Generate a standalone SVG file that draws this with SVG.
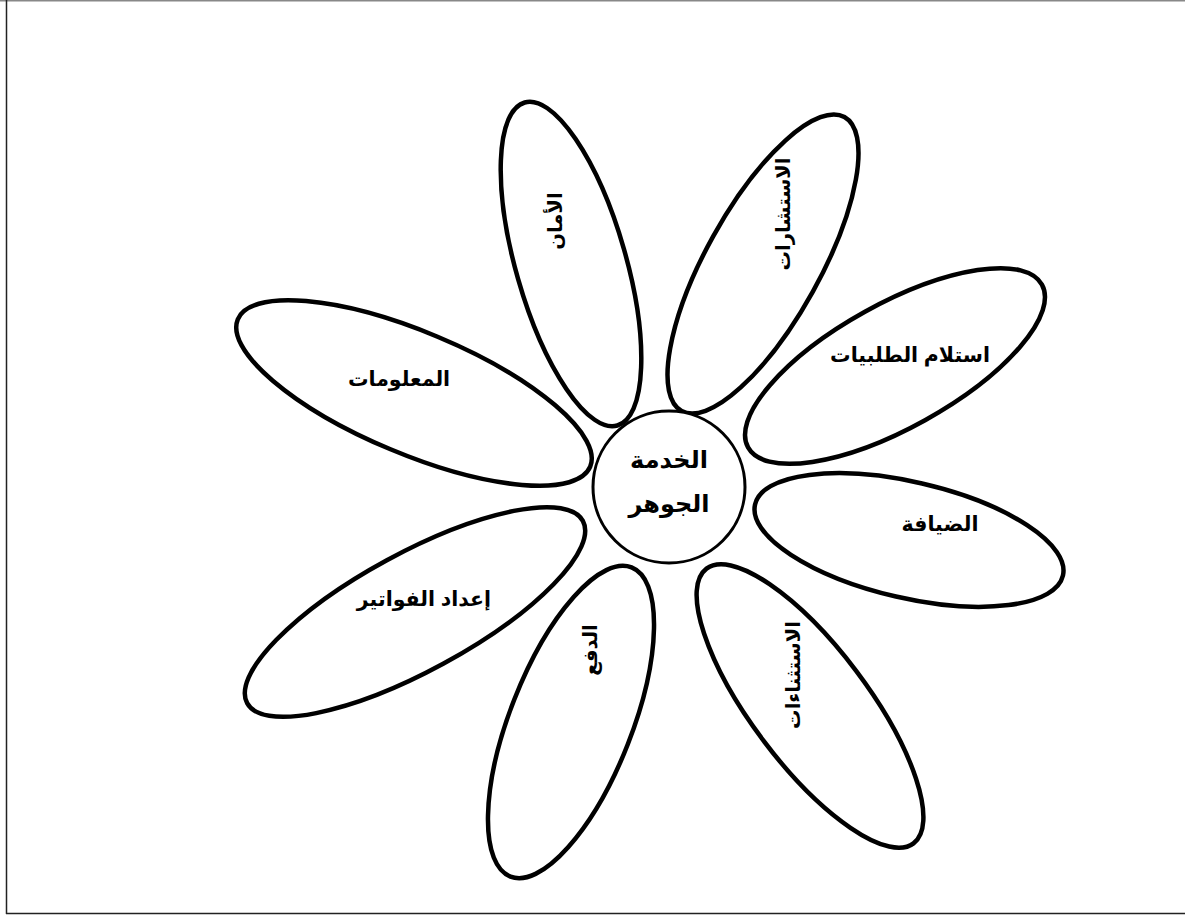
<svg xmlns="http://www.w3.org/2000/svg" width="1185" height="915" viewBox="0 0 1185 915">
<style>
.petal{fill:none;stroke:#000;stroke-width:4.5}
.core{fill:#fff;stroke:#000;stroke-width:3}
.lbl{font-family:"Liberation Sans","DejaVu Sans",sans-serif;font-weight:bold;font-size:20.5px;fill:#000;text-anchor:middle}
.vlbl{font-family:"Liberation Sans","DejaVu Sans",sans-serif;font-weight:bold;font-size:19.5px;fill:#000;text-anchor:middle}
.core-lbl{font-family:"Liberation Sans","DejaVu Sans",sans-serif;font-weight:bold;font-size:24px;fill:#000;text-anchor:middle}
</style>
<rect width="1185" height="915" fill="#fff"/>
<g id="frame">
<line x1="0" y1="0.75" x2="1185" y2="0.75" stroke="#888" stroke-width="1.5"/>
<line x1="6.5" y1="0" x2="6.5" y2="914" stroke="#222" stroke-width="1.5"/>
<line x1="6" y1="913.5" x2="1185" y2="913.5" stroke="#222" stroke-width="1.5"/>
</g>
<g id="connectors"></g>
<g id="petal-aman">
<ellipse class="petal" cx="0" cy="0" rx="168" ry="55" transform="translate(571,264) rotate(74)"/>
<text class="vlbl" transform="translate(555,221) rotate(-90)" y="7">الأمان</text>
</g>
<g id="petal-istisharat">
<ellipse class="petal" cx="0" cy="0" rx="168" ry="57" transform="translate(763,264) rotate(-61)"/>
<text class="vlbl" transform="translate(783,214) rotate(-90)" y="7">الاستشارات</text>
</g>
<g id="petal-istilam">
<ellipse class="petal" cx="0" cy="0" rx="168" ry="62" transform="translate(895,366) rotate(-29)"/>
<text class="lbl" x="910" y="362">استلام الطلبيات</text>
</g>
<g id="petal-diyafa">
<ellipse class="petal" cx="0" cy="0" rx="158" ry="58" transform="translate(909,540) rotate(13)"/>
<text class="lbl" x="940" y="531">الضيافة</text>
</g>
<g id="petal-istithnaat">
<ellipse class="petal" cx="0" cy="0" rx="172" ry="58" transform="translate(810,706) rotate(53)"/>
<text class="vlbl" transform="translate(793,675) rotate(-90)" y="7">الاستثناءات</text>
</g>
<g id="petal-dafa">
<ellipse class="petal" cx="0" cy="0" rx="166" ry="61" transform="translate(571,722) rotate(-68.6)"/>
<text class="vlbl" transform="translate(590,650) rotate(-90)" y="7">الدفع</text>
</g>
<g id="petal-fawatir">
<ellipse class="petal" cx="0" cy="0" rx="191" ry="59" transform="translate(415,612) rotate(-28.5)"/>
<text class="lbl" x="424" y="606">إعداد الفواتير</text>
</g>
<g id="petal-maalumat">
<ellipse class="petal" cx="0" cy="0" rx="191" ry="61" transform="translate(414,393) rotate(22.7)"/>
<text class="lbl" x="399" y="386">المعلومات</text>
</g>
<g id="core">
<circle class="core" cx="669" cy="487" r="76"/>
<text class="core-lbl" x="669" y="468">الخدمة</text>
<text class="core-lbl" x="669" y="512">الجوهر</text>
</g>
</svg>
